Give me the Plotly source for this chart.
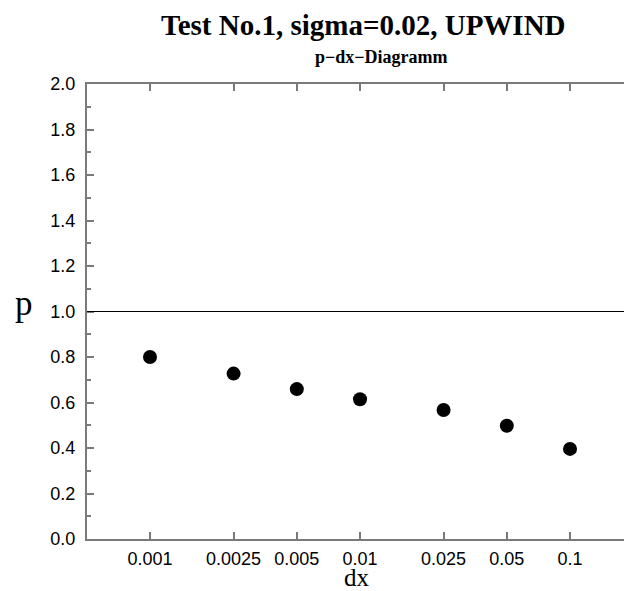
import plotly.graph_objects as go

dx_values = [0.001, 0.0025, 0.005, 0.01, 0.025, 0.05, 0.1]
dx_labels = ["0.001", "0.0025", "0.005", "0.01", "0.025", "0.05", "0.1"]
p_values = [0.80, 0.727, 0.659, 0.614, 0.567, 0.498, 0.396]
reference_p = 1.0

title_text = "Test No.1, sigma=0.02, UPWIND"
subtitle_text = "p\u2212dx\u2212Diagramm"

axis_gray = "#7a7a7a"

fig = go.Figure()
fig.add_trace(go.Scatter(
    x=dx_values, y=p_values, mode="markers",
    marker=dict(color="black", size=14, line=dict(width=0)),
    showlegend=False, hoverinfo="x+y",
))

fig.add_shape(type="line", xref="paper", yref="y", x0=0, x1=1,
              y0=reference_p, y1=reference_p,
              line=dict(color="black", width=1))

fig.update_layout(
    width=624, height=591,
    margin=dict(l=87, r=0, t=84, b=52),
    paper_bgcolor="white", plot_bgcolor="white",
    font=dict(family="Liberation Sans", size=18, color="black"),
    xaxis=dict(
        type="log", range=[-3.3, -0.743],
        tickvals=dx_values, ticktext=dx_labels,
        ticks="inside", ticklen=7, tickwidth=1.5, tickcolor=axis_gray,
        showline=True, linecolor=axis_gray, linewidth=2,
        mirror="ticks", showgrid=False, zeroline=False,
        ticklabelstandoff=2,
    ),
    yaxis=dict(
        range=[0, 2], dtick=0.2, tick0=0, tickformat=".1f",
        ticks="inside", ticklen=7, tickwidth=1.5, tickcolor=axis_gray,
        minor=dict(dtick=0.1, ticks="inside", ticklen=4, tickwidth=1.5,
                   tickcolor=axis_gray, showgrid=False),
        showline=True, linecolor=axis_gray, linewidth=2,
        showgrid=False, zeroline=False,
        ticklabelstandoff=6,
    ),
    annotations=[
        dict(text="<b>" + title_text + "</b>", xref="paper", yref="paper",
             x=0.514, y=1.1297, xanchor="center", yanchor="middle",
             showarrow=False,
             font=dict(family="Liberation Serif", size=29, color="black")),
        dict(text="<b>" + subtitle_text + "</b>", xref="paper", yref="paper",
             x=0.549, y=1.060, xanchor="center", yanchor="middle",
             showarrow=False,
             font=dict(family="Liberation Serif", size=18, color="black")),
        dict(text="p", xref="paper", yref="paper",
             x=-0.117, y=0.518, xanchor="center", yanchor="middle",
             showarrow=False,
             font=dict(family="Liberation Serif", size=35, color="black")),
        dict(text="dx", xref="paper", yref="paper",
             x=0.503, y=-0.0857, xanchor="center", yanchor="middle",
             showarrow=False,
             font=dict(family="Liberation Serif", size=25, color="black")),
    ],
)

fig.write_html("out.html")
